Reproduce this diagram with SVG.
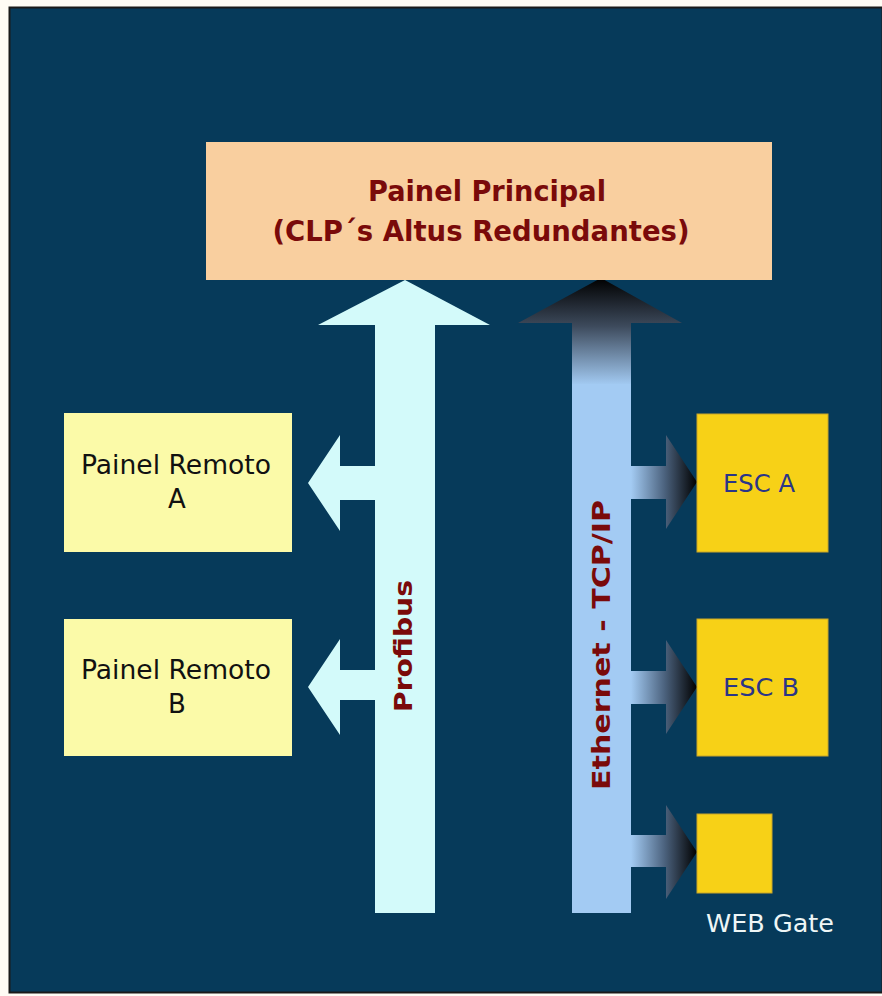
<svg xmlns="http://www.w3.org/2000/svg" width="882" height="996" viewBox="0 0 882 996">
<style>
.title{font-family:"DejaVu Sans",Verdana,sans-serif;font-weight:bold;fill:#7a0a0a;font-size:28px}
.lbl{font-family:"DejaVu Sans",Tahoma,sans-serif;font-size:26px;fill:#111}
.esc{font-family:"DejaVu Sans",Tahoma,sans-serif;font-size:25px;fill:#2b3588}
.bus{font-family:"DejaVu Sans",Verdana,sans-serif;font-weight:bold;fill:#7a0a0a;font-size:24px}
.yel{fill:#f7d117;stroke:#c9a528;stroke-width:1}
</style>
<defs>
<linearGradient id="ethUp" x1="0" y1="278" x2="0" y2="385" gradientUnits="userSpaceOnUse">
<stop offset="0" stop-color="#000000"/>
<stop offset="0.45" stop-color="#3d4a5c"/>
<stop offset="1" stop-color="#a3cbf3"/>
</linearGradient>
<linearGradient id="ethRight" x1="631" y1="0" x2="697" y2="0" gradientUnits="userSpaceOnUse">
<stop offset="0" stop-color="#a3cbf3"/>
<stop offset="0.5" stop-color="#4d6480"/>
<stop offset="1" stop-color="#000000"/>
</linearGradient>
</defs>
<rect x="0" y="0" width="882" height="996" fill="#fffcf5"/>
<rect x="9.5" y="7.5" width="873" height="985" fill="#063a5a" stroke="#1a1a1a" stroke-width="2"/>

<g id="connectors">
<g id="profibus">
<path d="M405,280 L490,325 L435,325 L435,913 L375,913 L375,700 L340,700 L340,735 L308,687 L340,639 L340,670 L375,670 L375,500 L340,500 L340,531 L308,483 L340,435 L340,466 L375,466 L375,325 L318,325 Z" fill="#d3fafa"/>
<text class="bus" transform="translate(412,646) rotate(-90)" text-anchor="middle" textLength="132" lengthAdjust="spacingAndGlyphs">Profibus</text>
</g>
<g id="ethernet">
<path d="M601,278 L682,323 L631,323 L631,913 L572,913 L572,323 L518,323 Z" fill="url(#ethUp)"/>
<rect x="572" y="384" width="59" height="529" fill="#a3cbf3"/>
<path d="M631,466 L666,466 L666,435 L697,482 L666,529 L666,499 L631,499 Z" fill="url(#ethRight)"/>
<path d="M631,671 L666,671 L666,640 L697,687 L666,734 L666,704 L631,704 Z" fill="url(#ethRight)"/>
<path d="M631,835 L666,835 L666,805 L697,852 L666,899 L666,867 L631,867 Z" fill="url(#ethRight)"/>
<text class="bus" transform="translate(610,645) rotate(-90)" text-anchor="middle" textLength="290" lengthAdjust="spacingAndGlyphs">Ethernet - TCP/IP</text>
</g>
</g>

<g id="painel-principal">
<rect x="206" y="142" width="566" height="138" fill="#f9cf9f"/>
<text class="title" x="487" y="201" text-anchor="middle" textLength="238" lengthAdjust="spacingAndGlyphs">Painel Principal</text>
<text class="title" x="481" y="241" text-anchor="middle" textLength="417" lengthAdjust="spacingAndGlyphs">(CLP´s Altus Redundantes)</text>
</g>

<g id="painel-remoto-a">
<rect x="64" y="413" width="228" height="139" fill="#fbfaa8"/>
<text class="lbl" x="176" y="474" text-anchor="middle" textLength="190" lengthAdjust="spacingAndGlyphs">Painel Remoto</text>
<text class="lbl" x="177" y="508" text-anchor="middle">A</text>
</g>

<g id="painel-remoto-b">
<rect x="64" y="619" width="228" height="137" fill="#fbfaa8"/>
<text class="lbl" x="176" y="679" text-anchor="middle" textLength="190" lengthAdjust="spacingAndGlyphs">Painel Remoto</text>
<text class="lbl" x="177" y="713" text-anchor="middle">B</text>
</g>

<g id="esc-a">
<rect class="yel" x="697" y="414" width="131" height="138"/>
<text class="esc" x="759" y="492" text-anchor="middle" textLength="72" lengthAdjust="spacingAndGlyphs">ESC A</text>
</g>

<g id="esc-b">
<rect class="yel" x="697" y="619" width="131" height="137"/>
<text class="esc" x="761" y="696" text-anchor="middle" textLength="76" lengthAdjust="spacingAndGlyphs">ESC B</text>
</g>

<g id="web-gate">
<rect class="yel" x="697" y="814" width="75" height="79"/>
<text x="770" y="932" text-anchor="middle" font-family="DejaVu Sans, Tahoma, sans-serif" font-size="25" fill="#eef6f6" textLength="128" lengthAdjust="spacingAndGlyphs">WEB Gate</text>
</g>
</svg>
